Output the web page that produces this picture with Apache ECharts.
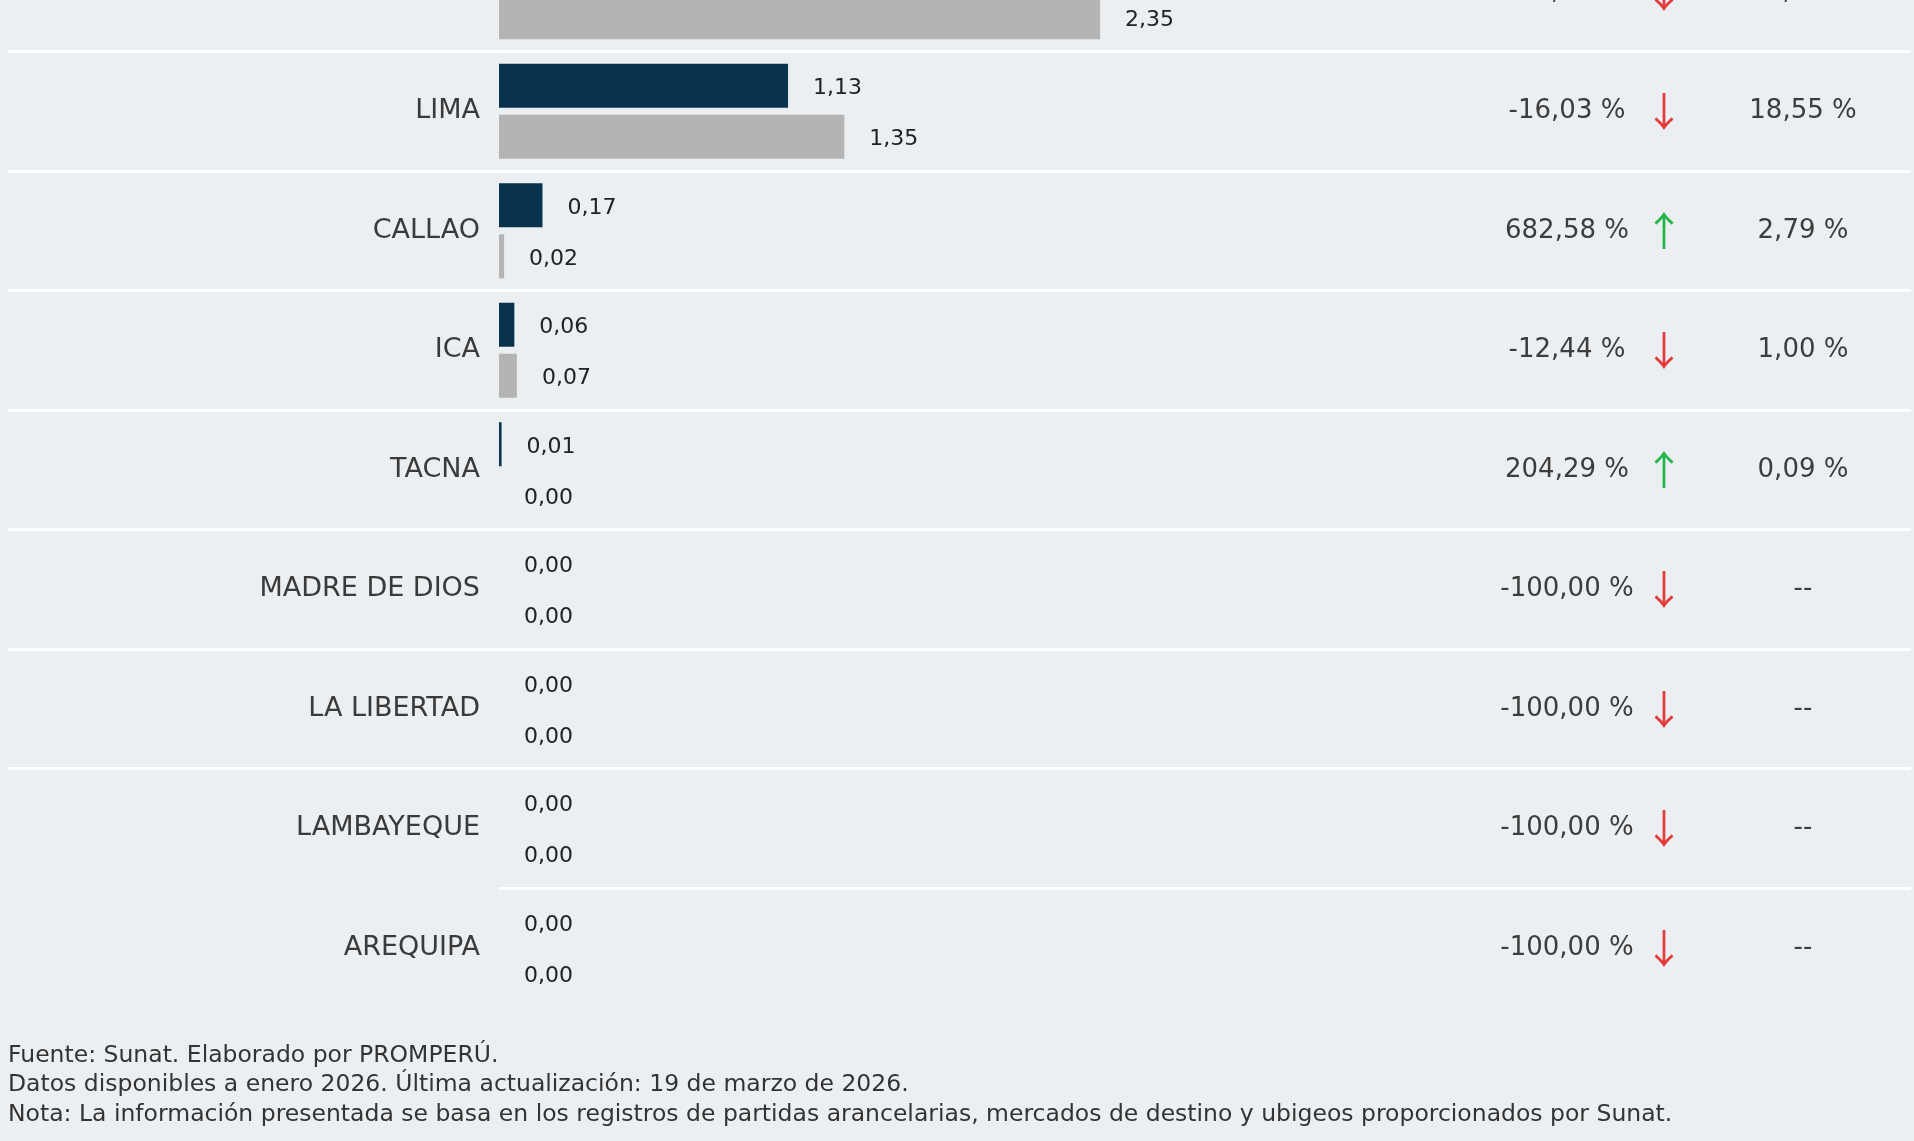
<!DOCTYPE html>
<html>
<head>
<meta charset="utf-8">
<script src="https://cdn.jsdelivr.net/npm/echarts@6/dist/echarts.min.js"></script>
<style>
  html, body { margin: 0; padding: 0; background: #ebeff2; }
  #chart { width: 1914px; height: 1141px; }
</style>
</head>
<body>
<div id="chart"></div>
<script>
// regiones (la primera queda cortada arriba)
const regiones = ["PIURA", "LIMA", "CALLAO", "ICA", "TACNA", "MADRE DE DIOS", "LA LIBERTAD", "LAMBAYEQUE", "AREQUIPA"];
const valores2026 = [1.99, 1.13, 0.17, 0.06, 0.01, 0, 0, 0, 0];
const valores2025 = [2.35, 1.35, 0.02, 0.07, 0, 0, 0, 0, 0];
const variacion = [-15.36, -16.03, 682.58, -12.44, 204.29, -100, -100, -100, -100];
const participacion = [32.68, 18.55, 2.79, 1.00, 0.09, null, null, null, null];
const notas = [
  "Fuente: Sunat. Elaborado por PROMPERÚ.",
  "Datos disponibles a enero 2026. Última actualización: 19 de marzo de 2026.",
  "Nota: La información presentada se basa en los registros de partidas arancelarias, mercados de destino y ubigeos proporcionados por Sunat."
];

const fmt = v => v.toFixed(2).replace(".", ",");
const rowH = 119.5;
const gridTop = -68;
const gridH = rowH * regiones.length;

const chart = echarts.init(document.getElementById("chart"));

const hiddenCat = (grid, extra) => Object.assign({
  type: "category",
  gridIndex: grid,
  data: regiones,
  inverse: true,
  axisLine: { show: false },
  axisTick: { show: false },
  axisLabel: { show: false },
  splitLine: { show: false }
}, extra);

const valueLabel = {
  show: true,
  position: "right",
  distance: 25,
  offset: [0, 3],
  fontFamily: "DejaVu Sans",
  fontSize: 22,
  color: "#222",
  formatter: p => fmt(p.value)
};

const option = {
  backgroundColor: "#ebeff2",
  animation: false,
  title: {
    left: 8,
    top: 1041,
    padding: 0,
    text: notas.join("\n"),
    textStyle: {
      fontFamily: "DejaVu Sans",
      fontSize: 23.5,
      fontWeight: "normal",
      color: "#333",
      lineHeight: 29.5
    }
  },
  grid: [
    { left: 8, right: 3, top: gridTop, height: gridH, outerBoundsMode: "none" },
    { left: 499, right: 3, top: gridTop, height: gridH, outerBoundsMode: "none" }
  ],
  xAxis: [
    { type: "value", gridIndex: 0, show: false },
    { type: "value", gridIndex: 1, min: 0, max: 5.52, show: false }
  ],
  yAxis: [
    // separadores de ancho completo
    hiddenCat(0, {
      splitLine: {
        show: true,
        interval: i => i !== 8,
        showMinLine: false,
        showMaxLine: false,
        lineStyle: { color: "#ffffff", width: 3 }
      }
    }),
    // variacion %
    hiddenCat(0, {
      position: "left",
      offset: 8 - 1567,
      axisLabel: {
        show: true,
        margin: 0,
        align: "center",
        fontFamily: "DejaVu Sans",
        fontSize: 26,
        color: "#3d3d3d",
        formatter: (v, i) => fmt(variacion[i]) + " %"
      }
    }),
    // flecha
    hiddenCat(0, {
      position: "left",
      offset: 8 - 1664,
      axisLabel: {
        show: true,
        margin: 0,
        align: "center",
        formatter: (v, i) => variacion[i] < 0 ? "{dn|↓}" : "{up|↑}",
        rich: {
          dn: { fontFamily: "Noto Sans CJK SC", fontSize: 40, color: "#e33b3b" },
          up: { fontFamily: "Noto Sans CJK SC", fontSize: 40, color: "#26b44a" }
        }
      }
    }),
    // participacion
    hiddenCat(0, {
      position: "left",
      offset: 8 - 1803,
      axisLabel: {
        show: true,
        margin: 0,
        align: "center",
        fontFamily: "DejaVu Sans",
        fontSize: 26,
        color: "#3d3d3d",
        formatter: (v, i) => participacion[i] == null ? "--" : fmt(participacion[i]) + " %"
      }
    }),
    // nombres de region + ultimo separador
    hiddenCat(1, {
      axisLabel: {
        show: true,
        margin: 19,
        fontFamily: "DejaVu Sans",
        fontSize: 27,
        color: "#3a3a3a"
      },
      splitLine: {
        show: true,
        interval: i => i >= 7,
        showMinLine: false,
        showMaxLine: false,
        lineStyle: { color: "#ffffff", width: 3 }
      }
    })
  ],
  series: [
    {
      name: "2026",
      type: "bar",
      xAxisIndex: 1,
      yAxisIndex: 4,
      data: valores2026,
      barWidth: 44,
      barGap: "16%",
      itemStyle: { color: "#08324e" },
      label: valueLabel
    },
    {
      name: "2025",
      type: "bar",
      xAxisIndex: 1,
      yAxisIndex: 4,
      data: valores2025,
      barWidth: 44,
      barGap: "16%",
      itemStyle: { color: "#b4b4b4" },
      label: valueLabel
    }
  ]
};

chart.setOption(option);
</script>
</body>
</html>
